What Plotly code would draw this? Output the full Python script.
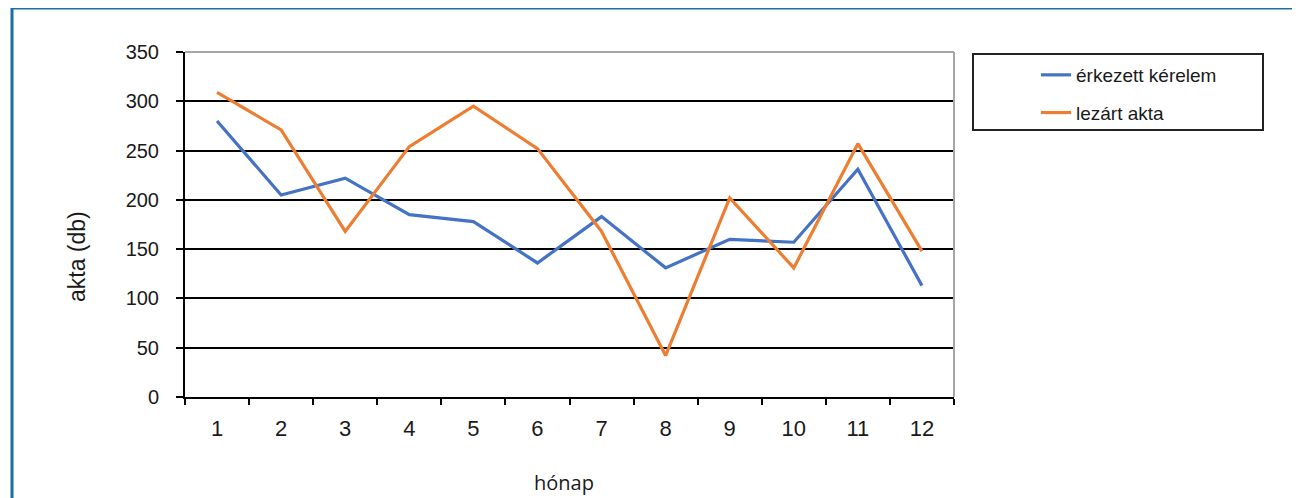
import plotly.graph_objects as go

# ---- data ----
months = ["1", "2", "3", "4", "5", "6", "7", "8", "9", "10", "11", "12"]
erkezett_kerelem = [280, 205, 222, 185, 178, 136, 183, 131, 160, 157, 231, 113]
lezart_akta = [309, 271, 168, 254, 295, 252, 168, 42, 202, 131, 257, 148]
y_ticks = [0, 50, 100, 150, 200, 250, 300, 350]
series_names = ["érkezett kérelem", "lezárt akta"]

# ---- layout constants (page pixels; the page body has an 8px margin) ----
OFF = 8
W, H = 1300 - OFF, 498 - OFF
PL, PR, PT, PB = 185, 954, 52, 397          # plot area in page pixels
L, T = PL - OFF, PT - OFF
R, B = W - (PR - OFF), H - (PB - OFF)
PW, PH = PR - PL, PB - PT


def px(x):
    return (x - PL) / PW


def py(y):
    return (PB - y) / PH


BLUE = "#4472C4"
ORANGE = "#ED7D31"
FRAME = "#1b6ea6"

fig = go.Figure()
fig.add_trace(go.Scatter(x=months, y=erkezett_kerelem, mode="lines", name=series_names[0],
                         line=dict(color=BLUE, width=3.2), legendgroup="a"))
fig.add_trace(go.Scatter(x=months, y=lezart_akta, mode="lines", name=series_names[1],
                         line=dict(color=ORANGE, width=3.2), legendgroup="b"))

fig.update_layout(
    width=W, height=H,
    margin=dict(l=L, r=R, t=T, b=B, pad=0),
    paper_bgcolor="white", plot_bgcolor="white",
    font=dict(family="Liberation Sans, Arial, sans-serif", color="#1a1a1a"),
    showlegend=True,
    legend=dict(
        x=px(1036), y=py(56), xanchor="left", yanchor="top",
        font=dict(size=19, color="#1a1a1a"),
        bgcolor="rgba(0,0,0,0)", borderwidth=0,
        tracegroupgap=10,
    ),
    xaxis=dict(
        type="category",
        range=[-0.5, len(months) - 0.5],
        tickson="boundaries",
        ticks="outside", ticklen=6, tickwidth=2, tickcolor="black",
        showline=True, linecolor="black", linewidth=2,
        showgrid=False,
        tickfont=dict(size=22, color="#1a1a1a"),
        ticklabelstandoff=11,
    ),
    yaxis=dict(
        range=[0, 350], tickvals=y_ticks,
        ticks="outside", ticklen=7, tickwidth=2, tickcolor="black",
        showline=True, linecolor="black", linewidth=2,
        showgrid=True, gridcolor="black", gridwidth=2,
        zeroline=False,
        tickfont=dict(size=20, color="#1a1a1a"),
        ticklabelstandoff=13,
    ),
    shapes=[
        # outer blue frame
        dict(type="rect", xref="paper", yref="paper",
             x0=px(12), x1=px(1320), y0=py(520), y1=py(8),
             line=dict(color=FRAME, width=3), layer="below"),
        # top and right plot frame in gray
        dict(type="line", xref="paper", yref="paper", x0=0, x1=1, y0=1, y1=1,
             line=dict(color="#a6a6a6", width=2), layer="above"),
        dict(type="line", xref="paper", yref="paper", x0=1, x1=1, y0=0, y1=1,
             line=dict(color="#a6a6a6", width=2), layer="above"),
        # legend box
        dict(type="rect", xref="paper", yref="paper",
             x0=px(973), x1=px(1263), y0=py(130), y1=py(54),
             line=dict(color="#222", width=2), layer="below"),
    ],
    annotations=[
        dict(text="akta (db)", xref="paper", yref="paper", x=px(77), y=py(257),
             showarrow=False, textangle=-90, font=dict(size=23, color="#1a1a1a"),
             xanchor="center", yanchor="middle"),
        dict(text="hónap", xref="paper", yref="paper", x=px(564), y=py(482),
             showarrow=False, font=dict(family="Open Sans, Noto Sans, sans-serif", size=20, color="#1a1a1a"),
             xanchor="center", yanchor="middle"),
    ],
)

fig.write_html("out.html")
